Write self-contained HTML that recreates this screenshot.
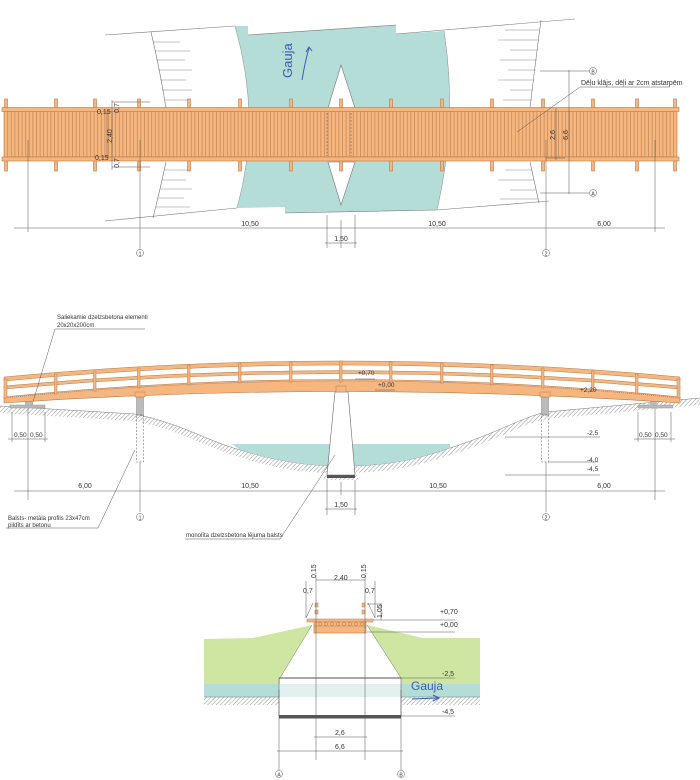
<!DOCTYPE html>
<html><head><meta charset="utf-8"><style>
html,body{margin:0;padding:0;background:#fff;width:700px;height:780px;overflow:hidden}
svg{display:block}
text{font-family:"Liberation Sans",sans-serif;fill:#333}
</style></head><body>
<svg width="700" height="780" viewBox="0 0 700 780" xmlns="http://www.w3.org/2000/svg">
<defs>
<pattern id="boards" width="3.6" height="10" patternUnits="userSpaceOnUse">
<rect width="3.6" height="10" fill="#f6b680"/><line x1="0.5" y1="0" x2="0.5" y2="10" stroke="#b77a48" stroke-width="0.6"/>
</pattern>
<pattern id="hatch" width="3" height="3" patternUnits="userSpaceOnUse" patternTransform="rotate(45)">
<rect width="3" height="3" fill="#fff"/><line x1="0" y1="0" x2="0" y2="3" stroke="#777" stroke-width="0.8"/>
</pattern>
</defs>

<!-- ===== TOP PLAN ===== -->
<!-- river -->
<path d="M235,26 L248,26 L248,35 L396,25 L396,34 L444,31 Q458,120 437,210 L285,213 L285,207 L237,208 Q262,120 235,26Z" fill="#b4ddd7"/>
<!-- bank lines -->
<path d="M105,35 L235,26 M248,35 L396,25 M396,34 L575,19" stroke="#777" stroke-width="0.6" fill="none"/>
<path d="M105,221 L237,208 M285,213 L437,210 L549,201" stroke="#777" stroke-width="0.6" fill="none"/>
<path d="M235,26 Q262,120 237,208 M444,31 Q458,120 437,210" stroke="#888" stroke-width="0.5" fill="none"/>
<path d="M151,32 Q160,70 166,108 M166,162 Q160,190 153,218" stroke="#777" stroke-width="0.6" fill="none"/>
<path d="M541,20 Q535,65 530,108 M530,162 Q535,185 539,203" stroke="#777" stroke-width="0.6" fill="none"/>
<g stroke="#888" stroke-width="0.5">
<line x1="153" y1="42" x2="180" y2="42"/><line x1="155" y1="51" x2="190" y2="51"/><line x1="156" y1="60" x2="185" y2="60"/><line x1="158" y1="70" x2="192" y2="70"/><line x1="160" y1="80" x2="186" y2="80"/><line x1="162" y1="90" x2="192" y2="90"/><line x1="164" y1="100" x2="188" y2="100"/>
<line x1="164" y1="170" x2="190" y2="170"/><line x1="162" y1="180" x2="186" y2="180"/><line x1="160" y1="189" x2="192" y2="189"/><line x1="158" y1="198" x2="184" y2="198"/><line x1="156" y1="207" x2="190" y2="207"/>
<line x1="540" y1="30" x2="505" y2="30"/><line x1="539" y1="40" x2="498" y2="40"/><line x1="538" y1="50" x2="510" y2="50"/><line x1="537" y1="60" x2="500" y2="60"/><line x1="536" y1="70" x2="508" y2="70"/><line x1="534" y1="80" x2="498" y2="80"/><line x1="533" y1="90" x2="510" y2="90"/><line x1="532" y1="100" x2="503" y2="100"/>
<line x1="532" y1="170" x2="505" y2="170"/><line x1="534" y1="180" x2="498" y2="180"/><line x1="536" y1="190" x2="510" y2="190"/><line x1="538" y1="199" x2="500" y2="199"/>
</g>
<!-- center diamond -->
<path d="M341,65 L328,108 L355,108Z M341,205 L328,162 L355,162Z" fill="#fff" stroke="#777" stroke-width="0.6"/>
<!-- Gauja label -->
<text transform="translate(292,78) rotate(-90)" font-size="13" style="fill:#3a5bb5">Gauja</text>
<path d="M302,80 Q305,62 309,48 M306,52 L309,47 L312,51" stroke="#3a5bb5" stroke-width="1" fill="none"/>
<!-- posts -->
<g fill="#f6b680" stroke="#b77a48" stroke-width="0.6">
<rect x="4.5" y="99" width="3" height="72"/><rect x="54.5" y="99" width="3" height="72"/><rect x="93.5" y="99" width="3" height="72"/><rect x="137.5" y="99" width="3" height="72"/><rect x="187.5" y="99" width="3" height="72"/><rect x="238.5" y="99" width="3" height="72"/><rect x="289.5" y="99" width="3" height="72"/><rect x="339.5" y="99" width="3" height="72"/><rect x="389.5" y="99" width="3" height="72"/><rect x="440.5" y="99" width="3" height="72"/><rect x="490.5" y="99" width="3" height="72"/><rect x="541.5" y="99" width="3" height="72"/><rect x="591.5" y="99" width="3" height="72"/><rect x="635.5" y="99" width="3" height="72"/><rect x="673.5" y="99" width="3" height="72"/>
</g>
<!-- deck -->
<rect x="4" y="111" width="673" height="46" fill="url(#boards)" stroke="#b77a48" stroke-width="0.6"/>
<rect x="2" y="107.5" width="677" height="4" fill="#f6b680" stroke="#b77a48" stroke-width="0.6"/>
<rect x="2" y="157" width="677" height="4" fill="#f6b680" stroke="#b77a48" stroke-width="0.6"/>
<line x1="327" y1="113" x2="327" y2="156" stroke="#555" stroke-width="0.6" stroke-dasharray="2,1.5"/>
<line x1="351" y1="113" x2="351" y2="156" stroke="#555" stroke-width="0.6" stroke-dasharray="2,1.5"/>
<!-- left dims -->
<g stroke="#555" stroke-width="0.5" fill="none">
<line x1="112" y1="100" x2="112" y2="170"/><line x1="112" y1="102" x2="150" y2="102"/><line x1="112" y1="167" x2="150" y2="167"/>
<line x1="107" y1="112" x2="107" y2="158"/>
</g>
<g font-size="7">
<text x="97" y="114">0,15</text><text x="95" y="160">0,15</text>
<text transform="translate(112,136) rotate(-90)" text-anchor="middle">2,40</text>
<text transform="translate(119,108) rotate(-90)" text-anchor="middle">0,7</text>
<text transform="translate(119,163) rotate(-90)" text-anchor="middle">0,7</text>
</g>
<!-- right annotations -->
<g stroke="#555" stroke-width="0.5" fill="none">
<line x1="540" y1="71" x2="589" y2="71"/><line x1="540" y1="193" x2="589" y2="193"/>
<line x1="569" y1="70" x2="569" y2="194"/>
<line x1="556" y1="108" x2="556" y2="160"/><line x1="546" y1="158" x2="565" y2="158"/>
<line x1="580" y1="87" x2="670" y2="87"/><line x1="580" y1="87" x2="517" y2="132"/>
</g>
<circle cx="593" cy="71" r="3.5" fill="#fff" stroke="#555" stroke-width="0.5"/><text x="593" y="73.5" font-size="5" text-anchor="middle">B</text>
<circle cx="593" cy="193" r="3.5" fill="#fff" stroke="#555" stroke-width="0.5"/><text x="593" y="195.5" font-size="5" text-anchor="middle">A</text>
<text x="581" y="85" font-size="7">Dēļu klājs, dēļi ar 2cm atstarpēm</text>
<g font-size="7"><text transform="translate(555,135) rotate(-90)" text-anchor="middle">2,6</text><text transform="translate(568,135) rotate(-90)" text-anchor="middle">6,6</text></g>
<!-- bottom dims -->
<g stroke="#555" stroke-width="0.5" fill="none">
<line x1="14" y1="228" x2="665" y2="228"/>
<line x1="28" y1="140" x2="28" y2="232"/><line x1="140" y1="140" x2="140" y2="250"/><line x1="546" y1="140" x2="546" y2="250"/><line x1="655" y1="140" x2="655" y2="232"/>
<line x1="327" y1="215" x2="327" y2="248"/><line x1="355" y1="215" x2="355" y2="248"/><line x1="341" y1="220" x2="341" y2="248"/>
<line x1="325" y1="243" x2="357" y2="243"/>
</g>
<g font-size="7" text-anchor="middle"><text x="250" y="226">10,50</text><text x="437" y="226">10,50</text><text x="604" y="226">6,00</text><text x="341" y="241">1,50</text></g>
<circle cx="140" cy="253" r="3.5" fill="#fff" stroke="#555" stroke-width="0.5"/><text x="140" y="255.5" font-size="5" text-anchor="middle">1</text>
<circle cx="546" cy="253" r="3.5" fill="#fff" stroke="#555" stroke-width="0.5"/><text x="546" y="255.5" font-size="5" text-anchor="middle">2</text>

<!-- ===== ELEVATION ===== -->
<!-- ground hatch -->
<path d="M0,406 L135,414 C185,425 205,440 240,450 C280,462 310,466 341,466 C380,466 410,462 450,448 C500,432 520,418 546,412 L700,398 L700,405 L546,419 C520,425 500,439 450,455 C410,469 380,473 341,473 C305,473 275,469 240,457 C205,447 185,432 135,421 L0,413Z" fill="url(#hatch)"/>
<path d="M0,406 L135,414 C185,425 205,440 240,450 C280,462 310,466 341,466 C380,466 410,462 450,448 C500,432 520,418 546,412 L700,398" stroke="#777" stroke-width="0.5" fill="none"/>
<!-- water -->
<path d="M232,444 L450,444 L450,448 C410,462 380,466 341,466 C310,466 280,462 240,450 Z" fill="#b4ddd7"/>
<!-- center pier -->
<path d="M335,392 L348,392 L355,475 L327,475Z" fill="#fff" stroke="#666" stroke-width="0.6"/>
<rect x="324" y="475" width="34" height="5" fill="url(#hatch)"/>
<rect x="327" y="475" width="28" height="3" fill="#555"/>
<!-- side piers -->
<rect x="136.5" y="397" width="7" height="18" fill="#bbb" stroke="#888" stroke-width="0.5"/>
<rect x="541.5" y="397" width="7" height="18" fill="#bbb" stroke="#888" stroke-width="0.5"/>
<rect x="136.5" y="415" width="7" height="47" fill="none" stroke="#555" stroke-width="0.5" stroke-dasharray="2,1.5"/>
<rect x="541.5" y="415" width="7" height="47" fill="none" stroke="#555" stroke-width="0.5" stroke-dasharray="2,1.5"/>
<!-- abutments -->
<rect x="10" y="405" width="35" height="3" fill="#bbb" stroke="#888" stroke-width="0.4"/>
<rect x="25" y="401" width="7" height="4" fill="#bbb"/>
<rect x="638" y="405" width="35" height="3" fill="#bbb" stroke="#888" stroke-width="0.4"/>
<rect x="650" y="401" width="7" height="4" fill="#bbb"/>
<!-- deck beam -->
<path d="M4,397 Q341,362 680,397 L680,403 Q341,380 4,403Z" fill="#f6b680" stroke="#b77a48" stroke-width="0.6"/>
<rect x="135" y="392" width="10" height="5" fill="#f6b680" stroke="#b77a48" stroke-width="0.5"/>
<rect x="540" y="392" width="10" height="5" fill="#f6b680" stroke="#b77a48" stroke-width="0.5"/>
<rect x="336" y="386" width="10" height="6" fill="#f6b680" stroke="#b77a48" stroke-width="0.5"/>
<path d="M4,398 Q341,364 680,398" stroke="#777" stroke-width="0.6" stroke-dasharray="1,1" fill="none"/>
<!-- rails -->
<path d="M4,377 Q341,345 680,377 L680,381 Q341,349 4,381Z" fill="#f6b680" stroke="#b77a48" stroke-width="0.5"/>
<path d="M4,386 Q341,355 680,386 L680,389 Q341,358 4,389Z" fill="#f6b680" stroke="#b77a48" stroke-width="0.5"/>
<g fill="#f6b680" stroke="#b77a48" stroke-width="0.5">
<rect x="4" y="379" width="3" height="19"/><rect x="54.5" y="374" width="2.5" height="20"/><rect x="93.5" y="371" width="2.5" height="20"/><rect x="137.5" y="368" width="2.5" height="20"/><rect x="187.5" y="365" width="2.5" height="20"/><rect x="238.5" y="363" width="2.5" height="20"/><rect x="289.5" y="362" width="2.5" height="20"/><rect x="339.5" y="361" width="2.5" height="21"/><rect x="389.5" y="362" width="2.5" height="20"/><rect x="440.5" y="363" width="2.5" height="20"/><rect x="490.5" y="365" width="2.5" height="20"/><rect x="541.5" y="368" width="2.5" height="20"/><rect x="591.5" y="371" width="2.5" height="20"/><rect x="635.5" y="374" width="2.5" height="20"/><rect x="677" y="379" width="3" height="19"/>
</g>
<!-- elevation labels -->
<g font-size="6.5"><text x="358" y="375">+0,70</text><text x="378" y="387">+0,00</text><text x="580" y="392">+2,20</text><text x="587" y="435">-2,5</text><text x="587" y="462">-4,0</text><text x="587" y="471">-4,5</text></g>
<g stroke="#555" stroke-width="0.5" fill="none">
<line x1="355" y1="379" x2="375" y2="379"/><line x1="375" y1="390" x2="395" y2="390"/>
<line x1="505" y1="437" x2="600" y2="437"/><line x1="548" y1="462" x2="598" y2="462"/><line x1="505" y1="475" x2="600" y2="475"/>
<!-- 0,50 dims -->
<line x1="28" y1="408" x2="28" y2="500"/><line x1="12" y1="412" x2="12" y2="442"/><line x1="45" y1="412" x2="45" y2="442"/><line x1="8" y1="439" x2="48" y2="439"/>
<line x1="655" y1="408" x2="655" y2="500"/><line x1="638" y1="412" x2="638" y2="442"/><line x1="671" y1="412" x2="671" y2="442"/><line x1="634" y1="439" x2="675" y2="439"/>
<line x1="14" y1="491" x2="665" y2="491"/>
<line x1="140" y1="462" x2="140" y2="512"/><line x1="546" y1="462" x2="546" y2="512"/>
<line x1="327" y1="480" x2="327" y2="515"/><line x1="355" y1="480" x2="355" y2="515"/><line x1="341" y1="482" x2="341" y2="495"/><line x1="325" y1="509" x2="357" y2="509"/>
<!-- leaders -->
<line x1="55" y1="329" x2="145" y2="329"/><line x1="55" y1="329" x2="32" y2="405"/>
<line x1="6" y1="528" x2="98" y2="528"/><line x1="98" y1="528" x2="135" y2="450"/>
<line x1="185" y1="539" x2="280" y2="539"/><line x1="280" y1="539" x2="335" y2="455"/>
</g>
<g font-size="6.5"><text x="14" y="437">0,50</text><text x="30" y="437">0,50</text><text x="639" y="437">0,50</text><text x="655" y="437">0,50</text></g>
<g font-size="7" text-anchor="middle"><text x="85" y="488">6,00</text><text x="250" y="488">10,50</text><text x="438" y="488">10,50</text><text x="604" y="488">6,00</text><text x="341" y="507">1,50</text></g>
<circle cx="140" cy="517" r="3.5" fill="#fff" stroke="#555" stroke-width="0.5"/><text x="140" y="519.5" font-size="5" text-anchor="middle">1</text>
<circle cx="546" cy="517" r="3.5" fill="#fff" stroke="#555" stroke-width="0.5"/><text x="546" y="519.5" font-size="5" text-anchor="middle">2</text>
<g font-size="6"><text x="57" y="319">Saliekamie dzelzsbetona elementi</text><text x="57" y="327">20x20x200cm</text>
<text x="8" y="520">Balsts- metāla profils 23x47cm</text><text x="8" y="527">pildīts ar betonu</text>
<text x="186" y="537">monolīta dzelzsbetona lējuma balsts</text></g>

<!-- ===== CROSS SECTION ===== -->
<path d="M204,639 L253,638 L312,625 L280,678 L204,678Z" fill="#cfe6a2"/>
<path d="M367,625 L423,638 L480,638 L480,684 L401,684 L401,678Z" fill="#cfe6a2"/>
<path d="M204,678 L280,678 L280,684 L204,684Z" fill="#cfe6a2"/>
<rect x="204" y="684" width="276" height="13" fill="#b4ddd7"/>
<rect x="279" y="684" width="122" height="13" fill="#e2f1ef"/>
<rect x="204" y="697" width="75" height="8" fill="url(#hatch)"/>
<rect x="401" y="697" width="79" height="8" fill="url(#hatch)"/>
<line x1="204" y1="697" x2="279" y2="697" stroke="#777" stroke-width="0.5"/><line x1="401" y1="697" x2="480" y2="697" stroke="#777" stroke-width="0.5"/>
<rect x="279" y="678" width="122" height="38" fill="none" stroke="#666" stroke-width="0.6"/>
<line x1="279" y1="678" x2="401" y2="678" stroke="#333" stroke-width="0.8"/>
<rect x="279" y="715" width="122" height="3.5" fill="#555"/>
<path d="M312,625 L280,678 M367,625 L401,678" stroke="#777" stroke-width="0.5"/>
<!-- deck section -->
<rect x="314" y="624" width="52" height="9" fill="#f6b680" stroke="#b77a48" stroke-width="0.6"/>
<rect x="307" y="619" width="66" height="3" fill="#f6b680" stroke="#b77a48" stroke-width="0.5"/>
<rect x="314" y="622" width="52" height="4" fill="#f6b680" stroke="#b77a48" stroke-width="0.5"/>
<g fill="none" stroke="#b77a48" stroke-width="0.5"><circle cx="320" cy="624" r="1.5"/><circle cx="326" cy="624" r="1.5"/><circle cx="332" cy="624" r="1.5"/><circle cx="338" cy="624" r="1.5"/><circle cx="344" cy="624" r="1.5"/><circle cx="350" cy="624" r="1.5"/><circle cx="356" cy="624" r="1.5"/><circle cx="362" cy="624" r="1.5"/></g>
<g fill="#f6b680" stroke="#b77a48" stroke-width="0.5"><rect x="315" y="603" width="3" height="4"/><rect x="315" y="610" width="3" height="4"/><rect x="362" y="603" width="3" height="4"/><rect x="362" y="610" width="3" height="4"/></g>
<g stroke="#555" stroke-width="0.5" fill="none">
<line x1="316" y1="580" x2="365" y2="580"/><line x1="316" y1="575" x2="316" y2="760"/><line x1="365" y1="575" x2="365" y2="760"/>
<line x1="306" y1="581" x2="306" y2="618"/><line x1="375" y1="581" x2="375" y2="618"/>
<line x1="306" y1="618" x2="313" y2="603"/><line x1="375" y1="618" x2="368" y2="603"/>
<line x1="367" y1="604" x2="382" y2="604"/><line x1="381" y1="604" x2="381" y2="620"/>
<line x1="373" y1="620" x2="455" y2="620"/><line x1="367" y1="632" x2="455" y2="632"/>
<line x1="401" y1="678" x2="455" y2="678"/><line x1="401" y1="716" x2="455" y2="716"/>
<line x1="279" y1="690" x2="279" y2="770"/><line x1="401" y1="690" x2="401" y2="770"/>
<line x1="314" y1="737" x2="367" y2="737"/><line x1="277" y1="751" x2="403" y2="751"/>
</g>
<g font-size="7"><text x="334" y="580">2,40</text><text x="303" y="593">0,7</text><text x="365" y="593">0,7</text>
<text transform="translate(316,578) rotate(-90)">0,15</text><text transform="translate(366,578) rotate(-90)">0,15</text>
<text transform="translate(382,618) rotate(-90)">1,05</text>
<text x="440" y="614">+0,70</text><text x="440" y="627">+0,00</text><text x="442" y="676">-2,5</text><text x="442" y="714">-4,5</text>
<text x="335" y="735">2,6</text><text x="335" y="749">6,6</text></g>
<text x="411" y="690" font-size="12" style="fill:#3a5bb5">Gauja</text>
<path d="M412,699 L438,698 M433,695 L439,698 L433,701" stroke="#3a5bb5" stroke-width="1" fill="none"/>
<circle cx="279" cy="774" r="3.5" fill="#fff" stroke="#555" stroke-width="0.5"/><text x="279" y="776.5" font-size="5" text-anchor="middle">A</text>
<circle cx="401" cy="774" r="3.5" fill="#fff" stroke="#555" stroke-width="0.5"/><text x="401" y="776.5" font-size="5" text-anchor="middle">B</text>
</svg>
</body></html>
